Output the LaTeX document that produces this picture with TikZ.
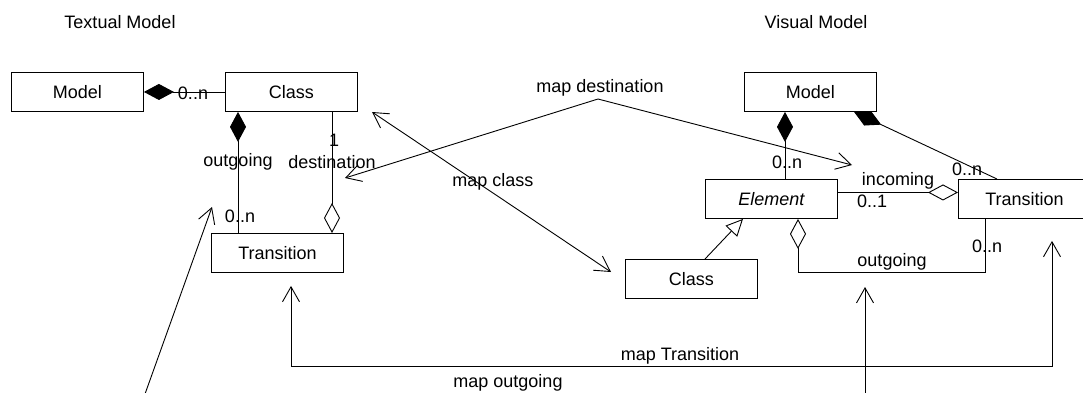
\documentclass[tikz,border=0pt]{standalone}
\usepackage{fontspec}
\setmainfont{Liberation Sans}
\usetikzlibrary{arrows.meta}
\begin{document}
\begin{tikzpicture}[x=1pt,y=-1pt,
  font=\fontsize{18}{21}\selectfont,
  line width=0.9pt,
  box/.style={draw, minimum width=132pt, minimum height=39pt, inner sep=0pt, anchor=north west},
  lbl/.style={inner sep=0pt},
  comp/.style={{Diamond[length=30pt,width=16pt]}-},
  aggend/.style={-{Diamond[open,length=30pt,width=16pt,fill=white]}},
  aggstart/.style={{Diamond[open,length=30pt,width=16pt,fill=white]}-},
  gen/.style={-{Triangle[open,length=17pt,width=16pt,fill=white]}},
  mapone/.style={-{Straight Barb[length=15pt,width=17pt]}},
  maptwo/.style={{Straight Barb[length=15pt,width=17pt]}-{Straight Barb[length=15pt,width=17pt]}}
]
\useasboundingbox (0,0) rectangle (1083,392);

% titles
\node[lbl] (ttitle) at (120,22) {Textual Model};
\node[lbl] (vtitle) at (816,22) {Visual Model};

% textual model classes
\node[box] (tModel) at (11,72)  {Model};
\node[box] (tClass) at (225,72) {Class};
\node[box] (tTrans) at (211,233) {Transition};

% visual model classes
\node[box] (vModel) at (744,72)  {Model};
\node[box] (vElem)  at (705,179) {\itshape Element};
\node[box] (vTrans) at (958,179) {Transition};
\node[box] (vClass) at (625,259) {Class};

% textual associations
\draw[comp] (tModel.east) -- (tClass.west);
\node[lbl] (tMCn) at (193,93) {0..n};

\draw[comp] ([xshift=13pt]tClass.south west) -- ([xshift=13pt]tClass.south west |- tTrans.north);
\node[lbl] (tOut) at (238,162) {outgoing};
\node[lbl] (tOutn) at (240,216) {0..n};

\draw[aggend] ([xshift=107pt]tClass.south west) -- ([xshift=107pt]tClass.south west |- tTrans.north);
\node[lbl] (tDst1) at (334,140) {1};
\node[lbl] (tDst) at (332,162) {destination};

% visual associations
\draw[comp] ([xshift=41pt]vModel.south west) -- ([xshift=41pt]vModel.south west |- vElem.north);
\node[lbl] (vMEn) at (787,162) {0..n};

\draw[comp] ([xshift=110pt]vModel.south west) -- ([xshift=39pt]vTrans.north west);
\node[lbl] (vMTn) at (967,169) {0..n};

\draw[aggend] ([yshift=6.5pt]vElem.east) -- ([yshift=6.5pt]vElem.east -| vTrans.west);
\node[lbl] (vIn) at (898,181) {incoming};
\node[lbl] (vIn1) at (872,201) {0..1};

\draw[aggstart] ([xshift=93pt]vElem.south west) -- ++(0,54) -| ([xshift=27pt]vTrans.south west);
\node[lbl] (vOut) at (892,262) {outgoing};
\node[lbl] (vOutn) at (987,246) {0..n};

\draw[gen] ([xshift=80pt]vClass.north west) -- ([xshift=38pt]vElem.south west);

% mappings between the two models
\coordinate (mcA) at (372,112);
\coordinate (mcB) at (611,272);
\draw[maptwo] (mcA) -- (mcB);
\node[lbl] (mcL) at (493,182) {map class};

\coordinate (mdA) at (345,178);
\coordinate (mdM) at (598,99);
\coordinate (mdB) at (852,165);
\draw[maptwo] (mdA) -- (mdM) -- (mdB);
\node[lbl] (mdL) at (600,88) {map destination};

\draw[maptwo] ([xshift=80pt,yshift=-13pt]tTrans.south west) -- ++(0,81)
  -| ([xshift=94pt,yshift=-22pt]vTrans.south west);
\node[lbl] (mtL) at (680,356) {map Transition};

\coordinate (moA) at (145,394);
\coordinate (moAt) at (212,207);
\coordinate (moB) at (865,394);
\coordinate (moBt) at (865,287);
\draw[mapone] (moA) -- (moAt);
\draw[mapone] (moB) -- (moBt);
\node[lbl] (moL) at (508,383) {map outgoing};
\end{tikzpicture}
\end{document}
